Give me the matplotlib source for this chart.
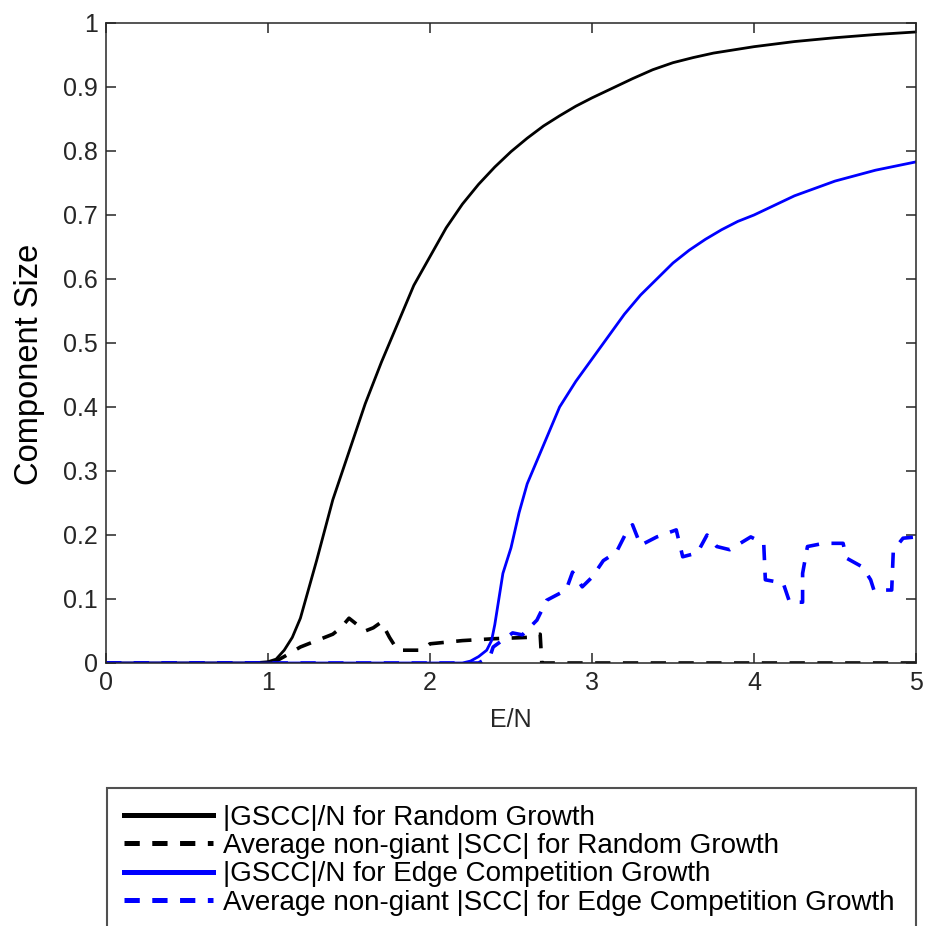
import numpy as np
import matplotlib as mpl
mpl.use("Agg")
import matplotlib.pyplot as plt

mpl.rcParams['font.family'] = ['Liberation Sans', 'DejaVu Sans']
mpl.rcParams['lines.scale_dashes'] = False

# |GSCC|/N for random growth
x_rand = [0, 0.9, 1.0, 1.05, 1.1, 1.15, 1.2, 1.3, 1.4, 1.5, 1.6, 1.7, 1.8, 1.9, 2.0,
          2.1, 2.2, 2.3, 2.4, 2.5, 2.6, 2.7, 2.8, 2.9, 3.0, 3.1, 3.25, 3.375, 3.5,
          3.625, 3.75, 4.0, 4.25, 4.5, 4.75, 5.0]
gscc_rand = [0, 0, 0.002, 0.006, 0.02, 0.04, 0.07, 0.16, 0.255, 0.33, 0.405, 0.47,
             0.53, 0.59, 0.635, 0.68, 0.717, 0.748, 0.775, 0.799, 0.82, 0.839, 0.855,
             0.87, 0.883, 0.895, 0.913, 0.927, 0.938, 0.946, 0.953, 0.963, 0.971,
             0.977, 0.982, 0.986]

# average non-giant |SCC| for random growth
x_rand_ng = [0, 1.0, 1.05, 1.1, 1.2, 1.3, 1.4, 1.45, 1.5, 1.55, 1.6, 1.65, 1.7, 1.75,
             1.8, 1.95, 2.0, 2.2, 2.4, 2.6, 2.68, 2.69, 5.0]
scc_rand = [0, 0, 0.003, 0.01, 0.025, 0.035, 0.045, 0.055, 0.07, 0.06, 0.05, 0.055,
            0.064, 0.04, 0.02, 0.02, 0.03, 0.035, 0.038, 0.04, 0.045, 0, 0]

# |GSCC|/N for edge competition growth
x_comp = [0, 2.2, 2.25, 2.3, 2.35, 2.38, 2.4, 2.45, 2.5, 2.55, 2.6, 2.65, 2.7, 2.8,
          2.9, 3.0, 3.1, 3.2, 3.3, 3.4, 3.5, 3.6, 3.7, 3.8, 3.9, 4.0, 4.25, 4.5,
          4.75, 5.0]
gscc_comp = [0, 0, 0.003, 0.01, 0.02, 0.035, 0.06, 0.14, 0.18, 0.235, 0.28, 0.31,
             0.34, 0.40, 0.44, 0.475, 0.51, 0.545, 0.575, 0.60, 0.625, 0.645, 0.662,
             0.677, 0.69, 0.70, 0.73, 0.753, 0.77, 0.783]

# average non-giant |SCC| for edge competition growth
x_comp_ng = [0, 2.3, 2.37, 2.39, 2.45, 2.51, 2.57, 2.66, 2.72, 2.84, 2.88, 2.94, 3.0,
             3.07, 3.15, 3.21, 3.25, 3.3, 3.4, 3.52, 3.56, 3.65, 3.71, 3.77, 3.85, 3.98,
             4.06, 4.07, 4.18, 4.22, 4.3, 4.3, 4.33, 4.43, 4.55, 4.57, 4.67, 4.72, 4.74,
             4.85, 4.86, 4.92, 5.0]
scc_comp = [0, 0, 0.01, 0.025, 0.036, 0.047, 0.044, 0.067, 0.098, 0.114, 0.142, 0.119,
            0.134, 0.16, 0.173, 0.203, 0.216, 0.184, 0.197, 0.208, 0.166, 0.172, 0.2,
            0.182, 0.177, 0.197, 0.187, 0.13, 0.125, 0.095, 0.095, 0.14, 0.182, 0.187,
            0.187, 0.164, 0.15, 0.13, 0.114, 0.114, 0.176, 0.195, 0.197]

labels = ["|GSCC|/N for Random Growth",
          "Average non-giant |SCC| for Random Growth",
          "|GSCC|/N for Edge Competition Growth",
          "Average non-giant |SCC| for Edge Competition Growth"]

fig = plt.figure(figsize=(9.26, 9.26), dpi=100)
ax = fig.add_axes([106 / 926, 1 - 663 / 926, 810 / 926, 640 / 926])

lw = 2.0
dash = (11, 9)
ax.plot(x_rand, gscc_rand, color="black", lw=lw, label=labels[0])
ax.plot(x_rand_ng, scc_rand, color="black", lw=2.6, ls="--", dashes=dash, label=labels[1])
ax.plot(x_comp, gscc_comp, color="blue", lw=lw, label=labels[2])
ax.plot(x_comp_ng, scc_comp, color="blue", lw=2.6, ls="--", dashes=dash, label=labels[3])

ax.set_xlim(0, 5)
ax.set_ylim(0, 1)
ax.set_xticks(np.arange(0, 6, 1))
ax.set_yticks(np.arange(0, 1.01, 0.1))
ax.set_yticklabels(["0"] + [f"{v:.1f}" for v in np.arange(0.1, 0.95, 0.1)] + ["1"])
ax.tick_params(direction="in", length=7, width=1.1, top=True, right=True,
               labelsize=18, colors="#262626", labelcolor="#262626", pad=6)
for s in ax.spines.values():
    s.set_linewidth(1.1)
    s.set_color("#262626")

ax.set_xlabel("E/N", fontsize=18, color="#262626", labelpad=9)
ax.set_ylabel("Component Size", fontsize=23.5, color="black")
ax.yaxis.set_label_coords(-0.075, 0.466)

top = 1 - 788 / 926
leg = fig.legend(loc="upper left",
                 bbox_to_anchor=(107 / 926, top - 0.01, 809 / 926, 0.01),
                 mode="expand", fontsize=20, frameon=True, fancybox=False,
                 handlelength=3.2, handletextpad=0.37, labelspacing=0.085,
                 borderpad=0.6, borderaxespad=0)
leg.get_frame().set_edgecolor("#262626")
leg.get_frame().set_linewidth(1.5)
for h in leg.get_lines():
    h.set_linewidth(3.6)

fig.savefig("out.png", dpi=100)
